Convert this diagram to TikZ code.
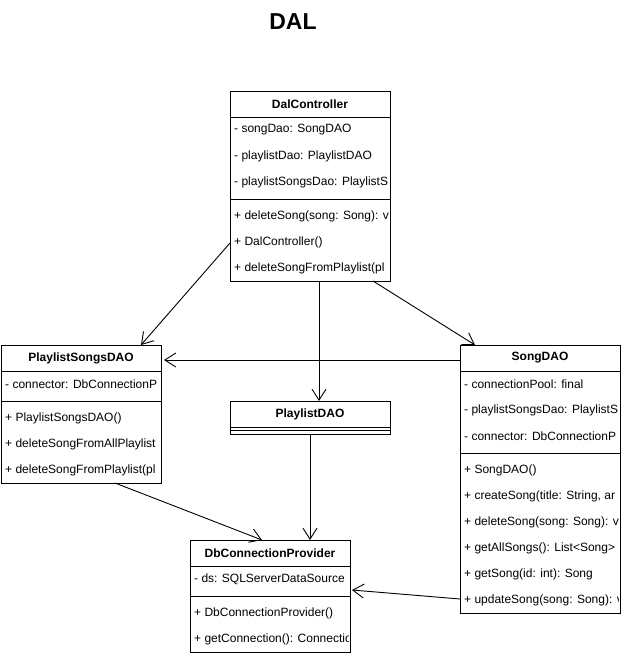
\documentclass[tikz,border=0pt]{standalone}
\usepackage{fontspec}
\setmainfont{Liberation Sans}
\usetikzlibrary{positioning, arrows.meta}

\begin{document}
\begin{tikzpicture}[
            x=1pt, y=-1pt,
            classbox/.style={rectangle, draw, fill=white, line width=1pt, anchor=north west, minimum width=160pt, inner sep=0pt, outer sep=0pt},
            classname/.style={font=\bfseries\fontsize{12}{14}\selectfont, inner sep=0pt},
            member/.style={font=\fontsize{12}{14}\selectfont, anchor=west, inner sep=0pt},
            assoc/.style={-{Straight Barb[length=11pt, width=14pt]}, line width=0.9pt}
        ]

        \useasboundingbox (0,0) rectangle (621,656);

        \node[font=\bfseries\fontsize{23}{28}\selectfont, inner sep=0pt] (title) at (293,22) {DAL};

        % DalController
        \node[classbox, minimum height=190pt] (dal) at (230,91) {};
        \node[classname] (dal-name) at (310,104) {DalController};
        \draw (230,117) -- (390,117);
        \draw (230,199) -- (390,199);
        \begin{scope}
            \clip (230,91) rectangle (388,281);
            \foreach \txt [count=\i] in {- songDao: SongDAO, - playlistDao: PlaylistDAO, - playlistSongsDao: PlaylistS}
                \node[member] (dal-f\i) at (234,91+13+26*\i) {\txt};
            \foreach \txt [count=\i] in {+ deleteSong(song: Song): v, + DalController(), + deleteSongFromPlaylist(pl}
                \node[member] (dal-m\i) at (234,199-9+26*\i) {\txt};
        \end{scope}

        % PlaylistSongsDAO
        \node[classbox, minimum height=138pt] (psd) at (1,345) {};
        \node[classname] (psd-name) at (81,358) {PlaylistSongsDAO};
        \draw (1,371) -- (161,371);
        \draw (1,401) -- (161,401);
        \begin{scope}
            \clip (1,345) rectangle (159,483);
            \node[member] (psd-f1) at (5,384) {- connector: DbConnectionP};
            \foreach \txt [count=\i] in {+ PlaylistSongsDAO(), + deleteSongFromAllPlaylist, + deleteSongFromPlaylist(pl}
                \node[member] (psd-m\i) at (5,401-9+26*\i) {\txt};
        \end{scope}

        % SongDAO
        \node[classbox, minimum height=268pt] (song) at (460,345) {};
        \node[classname] (song-name) at (540,358) {SongDAO};
        \draw (460,371) -- (620,371);
        \draw (460,453) -- (620,453);
        \begin{scope}
            \clip (460,345) rectangle (618,613);
            \foreach \txt [count=\i] in {- connectionPool: final, - playlistSongsDao: PlaylistS, - connector: DbConnectionP}
                \node[member] (song-f\i) at (464,345+13+26*\i) {\txt};
            \foreach \txt [count=\i] in {+ SongDAO(), {+ createSong(title: String, ar}, + deleteSong(song: Song): v, + getAllSongs(): List<Song>, + getSong(id: int): Song, + updateSong(song: Song): v}
                \node[member] (song-m\i) at (464,453-9+26*\i) {\txt};
        \end{scope}

        % PlaylistDAO
        \node[classbox, minimum height=33pt] (pdao) at (230,401) {};
        \node[classname] (pdao-name) at (310,414) {PlaylistDAO};
        \draw (230,427) -- (390,427);
        \draw (230,430) -- (390,430);

        % DbConnectionProvider
        \node[classbox, minimum height=112pt] (db) at (190,540) {};
        \node[classname] (db-name) at (270,553) {DbConnectionProvider};
        \draw (190,566) -- (350,566);
        \draw (190,596) -- (350,596);
        \begin{scope}
            \clip (190,540) rectangle (348,652);
            \node[member] (db-f1) at (194,579) {- ds: SQLServerDataSource};
            \foreach \txt [count=\i] in {+ DbConnectionProvider(), + getConnection(): Connectio}
                \node[member] (db-m\i) at (194,596-9+26*\i) {\txt};
        \end{scope}

        % associations
        \draw[assoc] ([yshift=-57pt]dal.west) -- ([xshift=60pt]psd.north);
        \draw[assoc] ([xshift=-17pt]dal.south east) -- ([xshift=15pt]song.north west);
        \draw[assoc] ([xshift=9pt]dal.south) -- ([xshift=9pt]pdao.north);
        \draw[assoc] ([yshift=-15pt]song.north west) -- ([xshift=3pt,yshift=-15pt]psd.north east);
        \draw[assoc] ([xshift=34pt]psd.south) -- ([xshift=-8pt]db.north);
        \draw[assoc] (pdao.south) -- ([xshift=40pt]db.north);
        \draw[assoc] ([yshift=14pt]song.south west) -- ([xshift=2pt,yshift=6pt]db.east);

    \end{tikzpicture}
\end{document}
